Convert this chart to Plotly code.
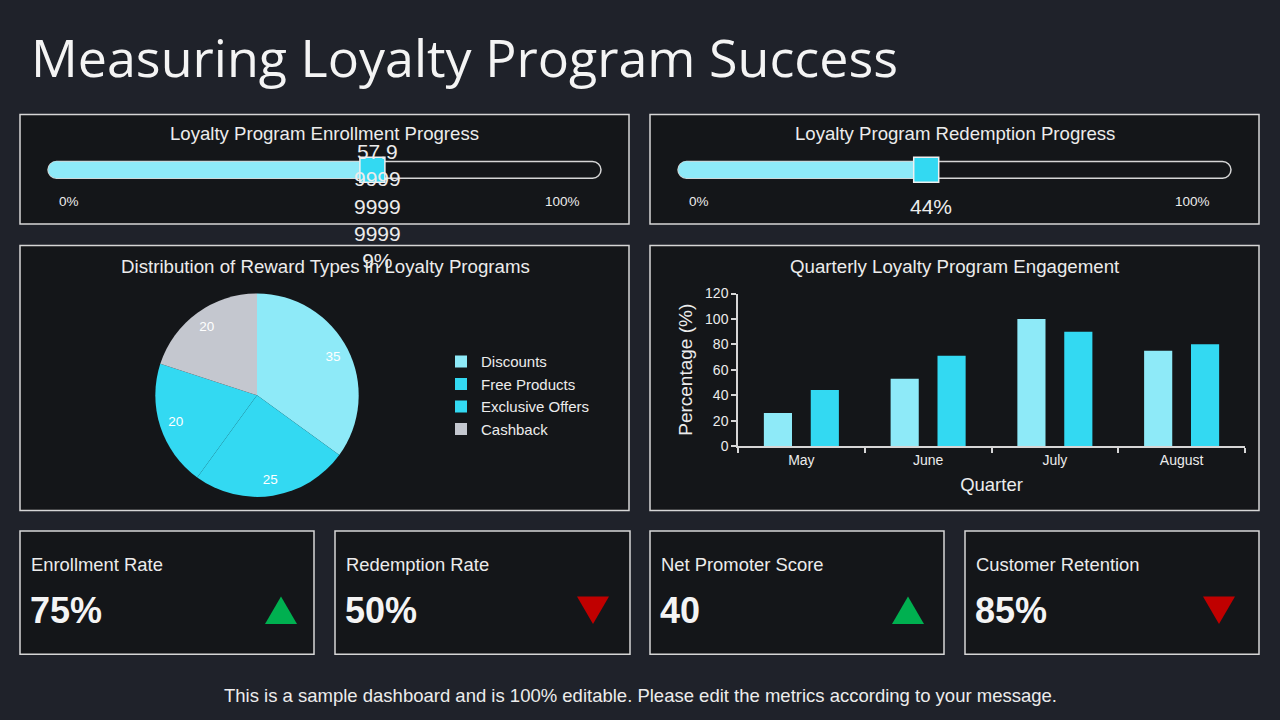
import plotly.graph_objects as go

# ---------------- data ----------------
title_text = "Measuring Loyalty Program Success"
footer_text = "This is a sample dashboard and is 100% editable. Please edit the metrics according to your message."

enroll_title = "Loyalty Program Enrollment Progress"
enroll_value = 57.99999999999999
redeem_title = "Loyalty Program Redemption Progress"
redeem_value = 44
slider_min_label = "0%"
slider_max_label = "100%"

pie_title = "Distribution of Reward Types in Loyalty Programs"
reward_types = ["Discounts", "Free Products", "Exclusive Offers", "Cashback"]
reward_shares = [35, 25, 20, 20]

bar_title = "Quarterly Loyalty Program Engagement"
quarters = ["May", "June", "July", "August"]
series_a = [26, 53, 100, 75]
series_b = [44, 71, 90, 80]
bar_x_title = "Quarter"
bar_y_title = "Percentage (%)"

kpi_labels = ["Enrollment Rate", "Redemption Rate", "Net Promoter Score", "Customer Retention"]
kpi_values = ["75%", "50%", "40", "85%"]
kpi_trends = ["up", "down", "up", "down"]

# ---------------- style ----------------
W, H = 1280, 720
BG = "#1f222a"
PANEL = "#141619"
BORDER = "#d6d6d6"
TXT = "#ececec"
LIGHT = "#8eeaf8"
CYAN = "#33d9f2"
GREY = "#c4c7cf"
GREEN = "#00b050"
RED = "#c00000"
FONT = "Liberation Sans, Arial, sans-serif"


def fx(px):
    return px / W


def fy(py):
    return 1 - py / H


shapes = []
annotations = []


def panel(x0, y0, x1, y1):
    shapes.append(dict(type="rect", xref="paper", yref="paper",
                       x0=fx(x0), x1=fx(x1), y0=fy(y1), y1=fy(y0),
                       line=dict(color=BORDER, width=1.5), fillcolor=PANEL, layer="below"))


def text(x, y, s, size, xanchor="center", bold=False, color=TXT, family=FONT):
    if bold:
        s = "<b>" + s + "</b>"
    annotations.append(dict(x=fx(x), y=fy(y), xref="paper", yref="paper", text=s,
                            showarrow=False, xanchor=xanchor, yanchor="middle",
                            font=dict(size=size, color=color, family=family)))


def rounded_track(x0, x1, y0, y1):
    r = (y1 - y0) / 2
    k = 0.5523 * r
    yc = (y0 + y1) / 2
    P = lambda a, b: f"{fx(a):.5f},{fy(b):.5f}"
    d = f"M{P(x0 + r, y0)} L{P(x1 - r, y0)} "
    d += f"C{P(x1 - r + k, y0)} {P(x1, yc - k)} {P(x1, yc)} "
    d += f"C{P(x1, yc + k)} {P(x1 - r + k, y1)} {P(x1 - r, y1)} "
    d += f"L{P(x0 + r, y1)} "
    d += f"C{P(x0 + r - k, y1)} {P(x0, yc + k)} {P(x0, yc)} "
    d += f"C{P(x0, yc - k)} {P(x0 + r - k, y0)} {P(x0 + r, y0)} Z"
    shapes.append(dict(type="path", xref="paper", yref="paper", path=d,
                       line=dict(color=BORDER, width=1.5), fillcolor=PANEL, layer="below"))


fig = go.Figure()

# ---------------- panels ----------------
panel(20, 109, 629, 221)
panel(650, 109, 1259, 221)
panel(20, 243, 629, 514)
panel(650, 243, 1259, 514)
card_x = [(20, 314), (335, 630), (650, 944), (965, 1259)]
for (a, b) in card_x:
    panel(a, 535, b, 661)

# ---------------- title / footer ----------------
text(29, 50, title_text, 52, xanchor="left", color="#f4f4f4", family="Open Sans, Noto Sans, sans-serif")
text(640, 703, footer_text, 18.5)

# ---------------- sliders ----------------
sliders = [
    (enroll_title, enroll_value, 20, 629, "x2", "y2"),
    (redeem_title, redeem_value, 650, 1259, "x3", "y3"),
]
for title, val, p0, p1, xa, ya in sliders:
    off = p0 - 20
    text((p0 + p1) / 2, 128, title, 18.6)
    rounded_track(48 + off, 601 + off, 157, 174)
    text(69 + off, 198, slider_min_label, 13.5)
    text(562 + off, 198, slider_max_label, 13.5)
    fig.add_trace(go.Bar(x=[val], y=[0], base=0, orientation="h", width=1,
                         marker=dict(color=LIGHT, line=dict(width=0)),
                         xaxis=xa, yaxis=ya, showlegend=False, hoverinfo="skip"))
    fig.add_trace(go.Scatter(x=[0], y=[0], mode="markers",
                             marker=dict(symbol="circle", size=17, color=LIGHT, line=dict(width=0)),
                             xaxis=xa, yaxis=ya, showlegend=False, cliponaxis=False, hoverinfo="skip"))
    fig.add_trace(go.Scatter(x=[val], y=[0], mode="markers",
                             marker=dict(symbol="square", size=25, color=CYAN,
                                         line=dict(color="#f0f0f0", width=1.5)),
                             xaxis=xa, yaxis=ya, showlegend=False, cliponaxis=False, hoverinfo="skip"))
    s = f"{val}%"
    chunks = [s[i:i + 4] for i in range(0, len(s), 4)]
    annotations.append(dict(x=val, y=fy(203), xref=xa, yref="paper", text="<br>".join(chunks),
                            showarrow=False, xanchor="center", yanchor="middle", xshift=5,
                            font=dict(size=21, color=TXT, family=FONT)))

# ---------------- pie ----------------
text(325, 264, pie_title, 18.7)
pie_domain = dict(x=[fx(153), fx(361)], y=[fy(500), fy(292)])
fig.add_trace(go.Pie(labels=reward_types, values=reward_shares, sort=False,
                     direction="clockwise", rotation=0,
                     marker=dict(colors=[LIGHT, CYAN, CYAN, GREY], line=dict(width=0)),
                     textinfo="none", domain=pie_domain, hoverinfo="label+value"))
# transparent ring carrying the value labels near the rim
fig.add_trace(go.Pie(labels=reward_types, values=reward_shares, sort=False,
                     direction="clockwise", rotation=0, hole=0.68, showlegend=False,
                     marker=dict(colors=["rgba(0,0,0,0)"] * 4, line=dict(width=0)),
                     textinfo="value", textposition="inside", insidetextorientation="horizontal",
                     textfont=dict(size=13.5, color="#ffffff", family=FONT),
                     domain=pie_domain, hoverinfo="skip"))

# ---------------- bar chart ----------------
text(955, 264, bar_title, 18.7)
fig.add_trace(go.Bar(x=quarters, y=series_a, marker=dict(color=LIGHT, line=dict(width=0)),
                     xaxis="x", yaxis="y", showlegend=False, name="Series 1"))
fig.add_trace(go.Bar(x=quarters, y=series_b, marker=dict(color=CYAN, line=dict(width=0)),
                     xaxis="x", yaxis="y", showlegend=False, name="Series 2"))

# ---------------- KPI cards ----------------
tri_cx = [281, 593, 908, 1219]
for (a, b), lab, v, tr, cx in zip(card_x, kpi_labels, kpi_values, kpi_trends, tri_cx):
    text(a + 9, 569, lab, 18.4, xanchor="left")
    text(a + 8, 616, v, 36, xanchor="left", bold=True, color="#f4f4f4")
    hw, top, bot = 16, 602, 630
    if tr == "up":
        pts = [(cx - hw, bot), (cx + hw, bot), (cx, top)]
        col = GREEN
    else:
        pts = [(cx - hw, top), (cx + hw, top), (cx, bot)]
        col = RED
    d = "M" + " L".join(f"{fx(p):.5f},{fy(q):.5f}" for p, q in pts) + " Z"
    shapes.append(dict(type="path", xref="paper", yref="paper", path=d,
                       line=dict(width=0), fillcolor=col, layer="above"))

axis_common = dict(showgrid=False, zeroline=False)
fig.update_layout(
    width=W, height=H,
    margin=dict(l=0, r=0, t=0, b=0),
    paper_bgcolor=BG, plot_bgcolor="rgba(0,0,0,0)",
    font=dict(family=FONT, color=TXT),
    barmode="group", bargap=0.26, bargroupgap=0.40,
    shapes=shapes, annotations=annotations,
    legend=dict(x=fx(441), y=fy(345), xanchor="left", yanchor="top",
                font=dict(size=15, color=TXT, family=FONT), bgcolor="rgba(0,0,0,0)",
                itemwidth=30, traceorder="normal"),
    xaxis=dict(domain=[fx(738), fx(1245)], anchor="y", showline=True, linecolor=BORDER, linewidth=1.5,
               ticks="outside", tickson="boundaries", ticklen=5, tickcolor=BORDER, tickwidth=1.5,
               tickfont=dict(size=14, color=TXT),
               title=dict(text=bar_x_title, font=dict(size=18.5, color=TXT), standoff=11), **axis_common),
    yaxis=dict(domain=[fy(448), fy(292)], anchor="x", range=[0, 120], dtick=20, showline=True,
               linecolor=BORDER, linewidth=1.5, ticks="outside", ticklen=5, tickcolor=BORDER, tickwidth=1.5,
               tickfont=dict(size=14, color=TXT),
               title=dict(text=bar_y_title, font=dict(size=19, color=TXT), standoff=7), **axis_common),
    xaxis2=dict(domain=[fx(48), fx(601)], anchor="y2", range=[-1.6, 100], visible=False, **axis_common),
    yaxis2=dict(domain=[fy(174), fy(157)], anchor="x2", range=[-0.5, 0.5], visible=False, **axis_common),
    xaxis3=dict(domain=[fx(678), fx(1231)], anchor="y3", range=[-1.6, 100], visible=False, **axis_common),
    yaxis3=dict(domain=[fy(174), fy(157)], anchor="x3", range=[-0.5, 0.5], visible=False, **axis_common),
)

fig.write_html("out.html")
